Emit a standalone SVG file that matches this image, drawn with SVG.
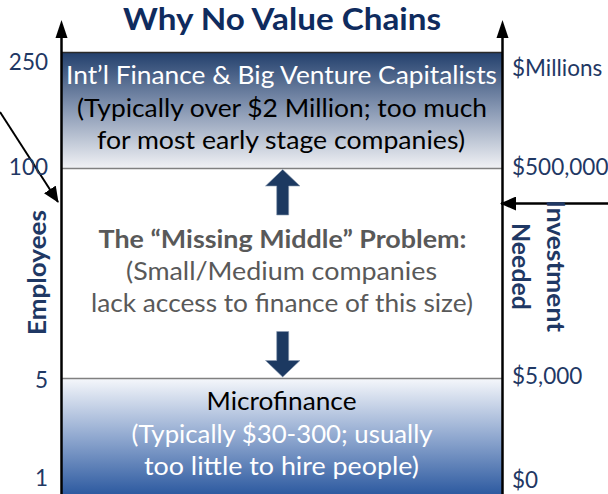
<svg xmlns="http://www.w3.org/2000/svg" width="608" height="494" viewBox="0 0 608 494">
<style>
text { font-family: Lato, "Open Sans", "Liberation Sans", sans-serif; }
.t { font-size: 25px; text-anchor: middle; }
.lab { font-size: 22.5px; fill: #1f3864; }
.axl { font-size: 25px; font-weight: bold; fill: #1f3864; text-anchor: middle; }
.axis { stroke: #000; stroke-width: 2.5; fill: none; }
.sep { stroke: #808080; stroke-width: 1.5; }
.blk { fill: #1c3961; stroke: #8a9ab0; stroke-width: 0.6; }
</style>
<defs>
<linearGradient id="gTop" x1="0" y1="0" x2="0" y2="1">
<stop offset="0" stop-color="#223f6c"/>
<stop offset="0.5" stop-color="#8999b4"/>
<stop offset="1" stop-color="#f1f2f5"/>
</linearGradient>
<linearGradient id="gBot" x1="0" y1="0" x2="0" y2="1">
<stop offset="0" stop-color="#f5f7fb"/>
<stop offset="0.5" stop-color="#91a9d0"/>
<stop offset="1" stop-color="#2d5aa0"/>
</linearGradient>
<marker id="ah" markerWidth="16" markerHeight="14" refX="15" refY="7" orient="auto" markerUnits="userSpaceOnUse" viewBox="0 0 16 14">
<path d="M0,0 L16,7 L0,14 z" fill="#000"/>
</marker>
</defs>

<text x="282" y="30" textLength="318" lengthAdjust="spacingAndGlyphs" style="font-size:30px;font-weight:bold;fill:#0f2b5e;text-anchor:middle">Why No Value Chains</text>

<g id="top-box">
<rect x="62" y="52" width="440" height="116.5" fill="url(#gTop)"/>
<line x1="62" y1="52.5" x2="502" y2="52.5" stroke="#2a2a2a" stroke-width="1.5"/>
<text class="t" x="281.5" y="84" textLength="431" lengthAdjust="spacingAndGlyphs" fill="#ffffff">Int’l Finance &amp; Big Venture Capitalists</text>
<text class="t" x="282" y="117" textLength="410" lengthAdjust="spacingAndGlyphs" fill="#000000">(Typically over $2 Million; too much</text>
<text class="t" x="281" y="149" textLength="368" lengthAdjust="spacingAndGlyphs" fill="#000000">for most early stage companies)</text>
</g>

<g id="middle-box">
<rect x="62" y="168.5" width="440" height="210" fill="#ffffff"/>
<text class="t" x="282.5" y="248" textLength="368" lengthAdjust="spacingAndGlyphs" fill="#595959" style="font-weight:bold">The “Missing Middle” Problem:</text>
<text class="t" x="281.5" y="280" textLength="311" lengthAdjust="spacingAndGlyphs" fill="#595959">(Small/Medium companies</text>
<text class="t" x="282" y="312" textLength="382" lengthAdjust="spacingAndGlyphs" fill="#595959">lack access to finance of this size)</text>
</g>

<g id="bottom-box">
<rect x="62" y="378.5" width="440" height="116" fill="url(#gBot)"/>
<text class="t" x="281.5" y="410" textLength="150" lengthAdjust="spacingAndGlyphs" fill="#000000">Microfinance</text>
<text class="t" x="282" y="443" textLength="301" lengthAdjust="spacingAndGlyphs" fill="#ffffff">(Typically $30-300; usually</text>
<text class="t" x="281.5" y="475" textLength="275" lengthAdjust="spacingAndGlyphs" fill="#ffffff">too little to hire people)</text>
</g>

<g id="connectors">
<line class="sep" x1="62" y1="168.5" x2="502" y2="168.5"/>
<line class="sep" x1="62" y1="378.5" x2="502" y2="378.5"/>
<line class="axis" x1="61.5" y1="494" x2="61.5" y2="36"/>
<path d="M61.5,20 L55.5,38 L67.5,38 z" fill="#000"/>
<line class="axis" x1="502.5" y1="494" x2="502.5" y2="36"/>
<path d="M502.5,20 L496.5,38 L508.5,38 z" fill="#000"/>
<line x1="0" y1="112" x2="58" y2="202" stroke="#000" stroke-width="2" marker-end="url(#ah)"/>
<line x1="608" y1="203.5" x2="501" y2="203.5" stroke="#000" stroke-width="2.5" marker-end="url(#ah)"/>
<path class="blk" d="M282.7,169.5 L300,186 L288.7,186 L288.7,215 L276.7,215 L276.7,186 L265.5,186 z"/>
<path class="blk" d="M276.7,331.5 L288.7,331.5 L288.7,360.5 L300,360.5 L282.7,377 L265.5,360.5 L276.7,360.5 z"/>
</g>

<g id="axis-labels">
<text class="lab" x="48" y="70" text-anchor="end">250</text>
<text class="lab" x="48" y="175" text-anchor="end">100</text>
<text class="lab" x="48" y="388" text-anchor="end">5</text>
<text class="lab" x="48" y="486" text-anchor="end">1</text>
<text class="lab" x="512" y="76">$Millions</text>
<text class="lab" x="512" y="175">$500,000</text>
<text class="lab" x="512" y="384">$5,000</text>
<text class="lab" x="512" y="488">$0</text>
<text class="axl" transform="translate(46,272.5) rotate(-90)" textLength="125" lengthAdjust="spacingAndGlyphs">Employees</text>
<text class="axl" transform="translate(547,266) rotate(90)" textLength="132" lengthAdjust="spacingAndGlyphs">Investment</text>
<text class="axl" transform="translate(512,266.5) rotate(90)" textLength="87" lengthAdjust="spacingAndGlyphs">Needed</text>
</g>
</svg>
